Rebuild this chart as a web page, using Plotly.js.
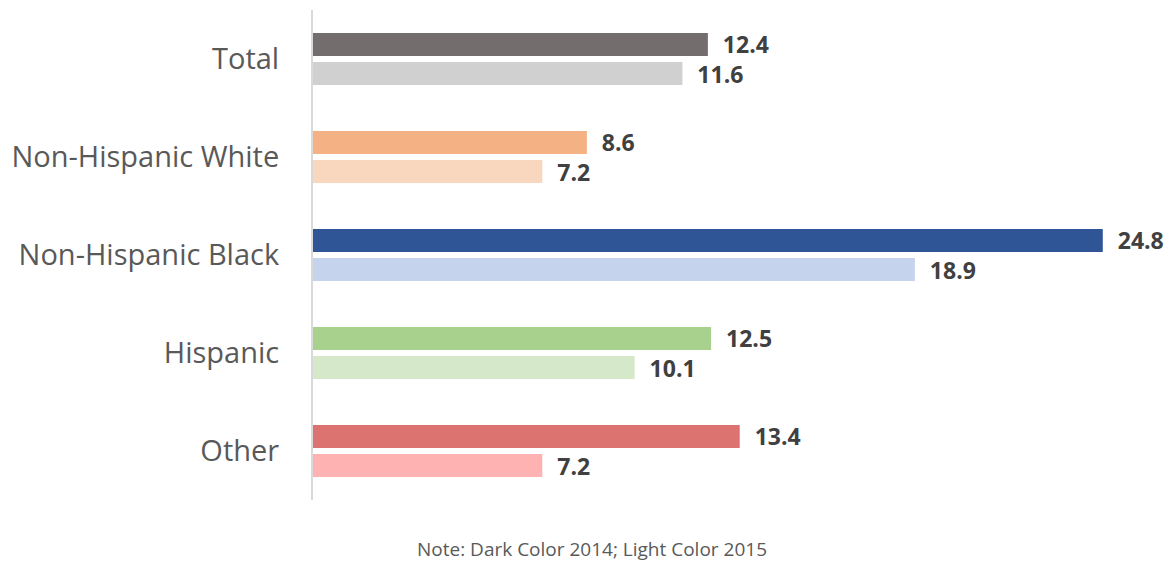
<!DOCTYPE html>
<html>
<head>
<meta charset="utf-8">
<script src="https://cdn.plot.ly/plotly-3.0.1.min.js"></script>
<style>html,body{margin:0;padding:0;background:#fff;}#chart{width:1173px;height:562px;}</style>
</head>
<body>
<div id="chart"></div>
<script>
const categories = ["Total", "Non-Hispanic White", "Non-Hispanic Black", "Hispanic", "Other"];
const values2014 = [12.4, 8.6, 24.8, 12.5, 13.4];
const values2015 = [11.6, 7.2, 18.9, 10.1, 7.2];
const darkColors = ["#736e6d", "#f4b183", "#2f5597", "#a9d18e", "#dd7371"];
const lightColors = ["#d0d0d0", "#f8d7be", "#c5d3ec", "#d5e8c9", "#ffb2b2"];
const noteText = "Note: Dark Color 2014; Light Color 2015";

const pad = "\u00a0\u00a0";
const labelFont = {family: "Open Sans, sans-serif", size: 23, color: "#404040", weight: "bold"};

const traces = [
  {type: "bar", orientation: "h", name: "2014", y: categories, x: values2014,
   marker: {color: darkColors}, text: values2014.map(v => pad + v.toFixed(1)),
   textposition: "outside", constraintext: "none", textfont: labelFont, cliponaxis: false, hoverinfo: "x+y"},
  {type: "bar", orientation: "h", name: "2015", y: categories, x: values2015,
   marker: {color: lightColors}, text: values2015.map(v => pad + v.toFixed(1)),
   textposition: "outside", constraintext: "none", textfont: labelFont, cliponaxis: false, hoverinfo: "x+y"}
];

const layout = {
  width: 1173, height: 562,
  margin: {l: 313, r: 32, t: 10, b: 62},
  paper_bgcolor: "#ffffff", plot_bgcolor: "#ffffff",
  showlegend: false,
  barmode: "group", bargap: 0.408, bargroupgap: 0.207,
  xaxis: {range: [0, 26], showgrid: false, zeroline: false, showticklabels: false, showline: false, fixedrange: true},
  yaxis: {autorange: "reversed", showgrid: false, zeroline: false, showline: true, linecolor: "#d9d9d9", linewidth: 2,
          ticks: "", ticklabelstandoff: 26, tickfont: {family: "Open Sans, sans-serif", size: 29, color: "#595959"}},
  annotations: [{text: noteText, xref: "paper", yref: "paper", x: (592 - 313) / 828, y: -0.1, xanchor: "center", yanchor: "middle",
                 showarrow: false, font: {family: "Open Sans, sans-serif", size: 19, color: "#595959"}}]
};

Plotly.newPlot("chart", traces, layout, {displayModeBar: false, staticPlot: true});
</script>
</body>
</html>
